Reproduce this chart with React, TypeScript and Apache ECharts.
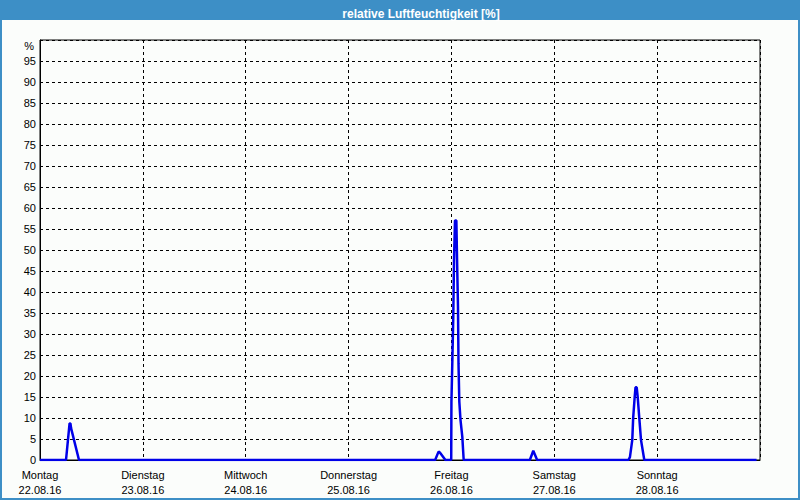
import React, { useEffect, useRef } from "react";
import * as echarts from "echarts";

const titleText = "relative Luftfeuchtigkeit [%]";
const dayNames = ["Montag", "Dienstag", "Mittwoch", "Donnerstag", "Freitag", "Samstag", "Sonntag"];
const dayDates = ["22.08.16", "23.08.16", "24.08.16", "25.08.16", "26.08.16", "27.08.16", "28.08.16"];

// time in hours since Monday 00:00
const hours = [
  0,
  6.07, 6.9, 7.1, 7.25, 9.1,
  92.2, 93.0, 93.3, 94.6,
  95.95, 96.0, 96.2, 96.43, 96.6, 96.83, 97.15, 97.3, 97.53, 97.65, 97.84, 98.12, 98.54, 98.86,
  114.3, 115.1, 116.0,
  137.3, 137.65, 138.2, 138.4, 138.76, 138.95, 139.23, 139.46, 139.84, 140.23, 141.0,
  167.2,
];
const humidity = [
  0,
  0, 8.7, 8.7, 7.6, 0,
  0, 2.0, 1.8, 0,
  0, 13.9, 23, 34, 47.5, 57, 57, 48.4, 36.5, 23, 13.9, 9.5, 5.5, 0,
  0, 2.2, 0,
  0, 0.7, 4.8, 9.9, 15, 17.3, 17.3, 15, 9.9, 4.8, 0,
  0,
];

const FONT = "Liberation Sans";

export default function App() {
  const ref = useRef<HTMLDivElement>(null);
  useEffect(() => {
    if (!ref.current) return;
    const chart = echarts.init(ref.current, undefined, { renderer: "svg" });
    const data = hours.map((h, i) => [h, humidity[i]]);
    chart.setOption({
      animation: false,
      backgroundColor: "#3d8fc6",
      textStyle: { fontFamily: FONT },
      graphic: [
        {
          type: "rect",
          z: -10,
          shape: { x: 2, y: 20, width: 796, height: 478 },
          style: { fill: "#fbfdfb" },
        },
      ],
      title: {
        text: titleText,
        left: 416,
        top: 3,
        textAlign: "center",
        textStyle: { color: "#ffffff", fontSize: 12, fontWeight: "bold", fontFamily: FONT },
      },
      grid: {
        left: 40,
        right: 40,
        top: 40,
        bottom: 40,
        show: true,
        borderColor: "#000",
        borderWidth: 1,
        backgroundColor: "transparent",
      },
      xAxis: {
        type: "value",
        min: 0,
        max: 168,
        interval: 24,
        axisLine: { show: true, lineStyle: { color: "#000", width: 1 } },
        axisTick: { show: false },
        splitLine: { show: true, lineStyle: { color: "#000", type: [3, 3], width: 1 } },
        axisLabel: {
          margin: 7,
          color: "#000",
          fontSize: 11,
          lineHeight: 15,
          fontFamily: FONT,
          showMaxLabel: false,
          formatter: (v: number) => {
            const i = Math.round(v / 24);
            return i < dayNames.length ? dayNames[i] + "\n" + dayDates[i] : "";
          },
        },
      },
      yAxis: {
        type: "value",
        min: 0,
        max: 100,
        interval: 5,
        name: "%",
        nameLocation: "end",
        nameGap: -6,
        nameTextStyle: {
          color: "#000",
          fontSize: 11,
          fontFamily: FONT,
          align: "right",
          verticalAlign: "middle",
          padding: [0, 6, 0, 0],
        },
        axisLine: { show: true, lineStyle: { color: "#000", width: 1 } },
        axisTick: { show: false },
        splitLine: { show: true, lineStyle: { color: "#000", type: [3, 3], width: 1 } },
        axisLabel: {
          margin: 4,
          color: "#000",
          fontSize: 11,
          fontFamily: FONT,
          formatter: (v: number) => (v >= 100 ? "" : String(v)),
        },
      },
      series: [
        {
          type: "line",
          data,
          showSymbol: false,
          symbol: "none",
          lineStyle: { color: "#0000e8", width: 2.5 },
          itemStyle: { color: "#0000e8" },
          z: 5,
        },
      ],
    });
    return () => chart.dispose();
  }, []);
  return (
    <div
      ref={ref}
      style={{ position: "absolute", left: 0, top: 0, width: 800, height: 500 }}
    />
  );
}
